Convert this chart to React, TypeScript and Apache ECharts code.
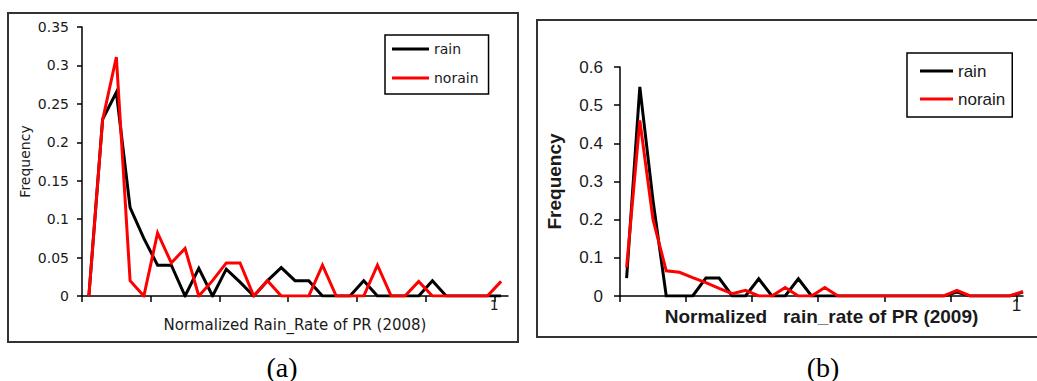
import { useEffect, useRef } from 'react';
import * as echarts from 'echarts';

// ---- data ----
const seriesNames = ['rain', 'norain'];
// Panel (a): 31 bins of normalized rain rate, PR 2008
const rain2008 = [0, 0.23, 0.265, 0.115, 0.075, 0.04, 0.04, 0, 0.036, 0, 0.035, 0.018, 0, 0.02, 0.037, 0.02, 0.02, 0, 0, 0, 0.02, 0, 0, 0, 0, 0.02, 0, 0, 0, 0, 0];
const norain2008 = [0, 0.229, 0.311, 0.02, 0, 0.082, 0.043, 0.062, 0, 0.02, 0.043, 0.043, 0, 0.02, 0, 0, 0, 0.04, 0, 0, 0, 0.04, 0, 0, 0.019, 0, 0, 0, 0, 0, 0.019];
// Panel (b): 31 bins, PR 2009
const rain2009 = [0.047, 0.548, 0.25, 0, 0, 0, 0.047, 0.047, 0, 0, 0.045, 0, 0, 0.045, 0, 0, 0, 0, 0, 0, 0, 0, 0, 0, 0, 0.01, 0, 0, 0, 0, 0.01];
const norain2009 = [0.075, 0.46, 0.2, 0.066, 0.062, 0.048, 0.035, 0.02, 0.006, 0.015, 0, 0, 0.022, 0, 0, 0.022, 0, 0, 0, 0, 0, 0, 0, 0, 0, 0.015, 0, 0, 0, 0, 0.012];
// x-axis tick positions (bin boundaries) and the single labelled tick
const xTickBins = [0, 5, 10, 15, 20, 25, 30];
const xLabelBin = 30;
const xLabelText = '1';
const captions = ['(a)', '(b)'];
const xNames = ['Normalized Rain_Rate of PR (2008)', 'Normalized   rain_rate of PR (2009)'];
const yName = 'Frequency';

const toPoints = (arr: number[]) => arr.map((v, i) => [i + 0.5, v]);

const TXT = '#1a1a1a';
const FA = 'DejaVu Sans';
const FB = 'Liberation Sans';

export default function App() {
  const ref = useRef<HTMLDivElement>(null);
  useEffect(() => {
    if (!ref.current) return;
    const chart = echarts.init(ref.current, undefined, { renderer: 'svg' });
    const axisLine = { show: true, onZero: true, lineStyle: { color: '#000', width: 1.5 } };
    const lineSeries = (name: string, color: string, data: number[], idx: number, z: number) => ({
      type: 'line',
      name,
      color,
      xAxisIndex: idx,
      yAxisIndex: idx,
      data: toPoints(data),
      symbol: 'none',
      showSymbol: false,
      z,
      lineStyle: { color, width: 3, join: 'miter' },
    });
    chart.setOption({
      animation: false,
      backgroundColor: '#fff',
      grid: [
        { left: 82, top: 27, width: 426, height: 269, containLabel: false, outerBoundsMode: 'none' },
        { left: 620, top: 67, width: 403, height: 229, containLabel: false, outerBoundsMode: 'none' },
      ],
      xAxis: [
        {
          type: 'value', gridIndex: 0, min: 0, max: 31,
          axisLine,
          axisTick: { show: true, inside: false, length: 6, customValues: xTickBins, lineStyle: { color: '#000', width: 1.5 } },
          axisLabel: { show: true, customValues: [xLabelBin], formatter: (v: number) => (v === xLabelBin ? xLabelText : ''), margin: 2, fontSize: 14, fontFamily: FA, color: TXT },
          splitLine: { show: false },
          name: xNames[0], nameLocation: 'middle', nameGap: 21, nameMoveOverlap: false,
          nameTextStyle: { fontSize: 15, fontFamily: FA, color: TXT },
        },
        {
          type: 'value', gridIndex: 1, min: 0, max: 30.5,
          axisLine,
          axisTick: { show: true, inside: false, length: 6, customValues: xTickBins, lineStyle: { color: '#000', width: 1.5 } },
          axisLabel: { show: true, customValues: [xLabelBin], formatter: (v: number) => (v === xLabelBin ? xLabelText : ''), margin: 1, fontSize: 17, fontFamily: FB, color: TXT },
          splitLine: { show: false },
          name: xNames[1], nameLocation: 'middle', nameGap: 11, nameMoveOverlap: false,
          nameTextStyle: { fontSize: 19, fontWeight: 'bold', fontFamily: FB, color: TXT },
        },
      ],
      yAxis: [
        {
          type: 'value', gridIndex: 0, min: 0, max: 0.35, interval: 0.05,
          axisLine,
          axisTick: { show: true, inside: false, length: 5, lineStyle: { color: '#000', width: 1.5 } },
          axisLabel: { margin: 13, fontSize: 14, fontFamily: FA, color: TXT },
          splitLine: { show: false },
          name: yName, nameLocation: 'middle', nameGap: 50, nameMoveOverlap: false,
          nameTextStyle: { fontSize: 14, fontFamily: FA, color: TXT },
        },
        {
          type: 'value', gridIndex: 1, min: 0, max: 0.6, interval: 0.1,
          axisLine,
          axisTick: { show: true, inside: false, length: 6, lineStyle: { color: '#000', width: 1.5 } },
          axisLabel: { margin: 17, fontSize: 17, fontFamily: FB, color: TXT },
          splitLine: { show: false },
          name: yName, nameLocation: 'middle', nameGap: 56, nameMoveOverlap: false,
          nameTextStyle: { fontSize: 19, fontWeight: 'bold', fontFamily: FB, color: TXT },
        },
      ],
      legend: [
        {
          left: 385, top: 35, orient: 'vertical', data: seriesNames, selectedMode: false,
          icon: 'rect', itemWidth: 37, itemHeight: 3, itemGap: 13,
          padding: [6, 10, 8, 7], borderColor: '#000', borderWidth: 1.5, backgroundColor: '#fff',
          textStyle: { fontFamily: FA, fontSize: 14, color: TXT, lineHeight: 16 },
        },
        {
          left: 907, top: 53, orient: 'vertical', data: seriesNames, selectedMode: false,
          icon: 'rect', itemWidth: 33, itemHeight: 3, itemGap: 10,
          padding: [9, 7, 9, 13], borderColor: '#000', borderWidth: 1.5, backgroundColor: '#fff',
          textStyle: { fontFamily: FB, fontSize: 17, color: TXT, lineHeight: 18 },
        },
      ],
      series: [
        lineSeries(seriesNames[0], '#000000', rain2008, 0, 2),
        lineSeries(seriesNames[1], '#ff0000', norain2008, 0, 3),
        lineSeries(seriesNames[0], '#000000', rain2009, 1, 2),
        lineSeries(seriesNames[1], '#ff0000', norain2009, 1, 3),
      ],
      graphic: [
        { type: 'rect', silent: true, z: -1, shape: { x: 8, y: 13, width: 510, height: 329 }, style: { fill: 'none', stroke: '#333', lineWidth: 2 } },
        { type: 'rect', silent: true, z: -1, shape: { x: 537, y: 20, width: 520, height: 317 }, style: { fill: 'none', stroke: '#333', lineWidth: 2 } },
        { type: 'text', silent: true, x: 282, y: 367, style: { text: captions[0], fontSize: 28, fontFamily: 'Liberation Serif', fill: '#000', align: 'center', verticalAlign: 'middle' } },
        { type: 'text', silent: true, x: 823, y: 367, style: { text: captions[1], fontSize: 28, fontFamily: 'Liberation Serif', fill: '#000', align: 'center', verticalAlign: 'middle' } },
      ],
    });
    return () => chart.dispose();
  }, []);
  return (
    <div
      ref={ref}
      style={{ position: 'fixed', left: 0, top: 0, width: 1037, height: 381, background: '#fff' }}
    />
  );
}
